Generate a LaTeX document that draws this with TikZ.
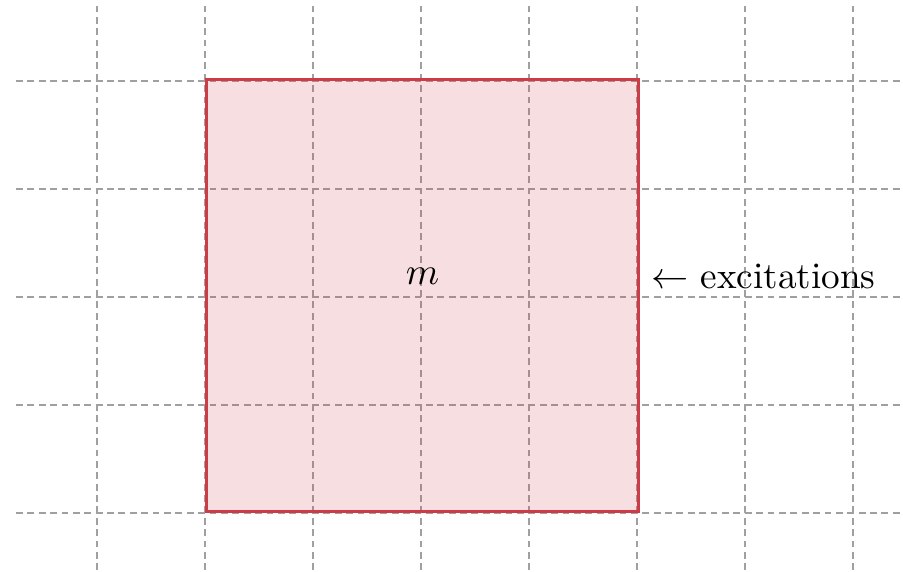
\documentclass[tikz,border=0pt]{standalone}
\usepackage{amsmath,amssymb}
\usetikzlibrary{calc,positioning}
\definecolor{exred}{RGB}{205,60,70}
\definecolor{exgrid}{RGB}{160,160,160}

\begin{document}
\begin{tikzpicture}[x=1cm,y=1cm,every node/.style={align=center},
    gridline/.style={exgrid,line width=0.45pt,dash pattern=on 1.8pt off 1.2pt}]
    \useasboundingbox (-0.898,-0.546) rectangle (7.463,4.75);
    % lattice
    \foreach \i in {0,...,7}
      \draw[gridline] (\i,-0.53) -- (\i,4.69);
    \foreach \j in {0,...,4}
      \draw[gridline] (-0.75,\j) -- (7.463,\j);
    \node[draw=exred,fill=exred,fill opacity=0.17,line width=0.8pt,inner sep=0pt,
      minimum width=4cm,minimum height=4cm,anchor=south west] at (1,0) (mag) {};
    \node at ($(mag.center)+(0,.18)$) (mlabel) {$m$};
    \node[right=-0.2mm of mag,yshift=1.8mm,scale=0.98] (exc) {$\leftarrow$ excitations};
\end{tikzpicture}
\end{document}
